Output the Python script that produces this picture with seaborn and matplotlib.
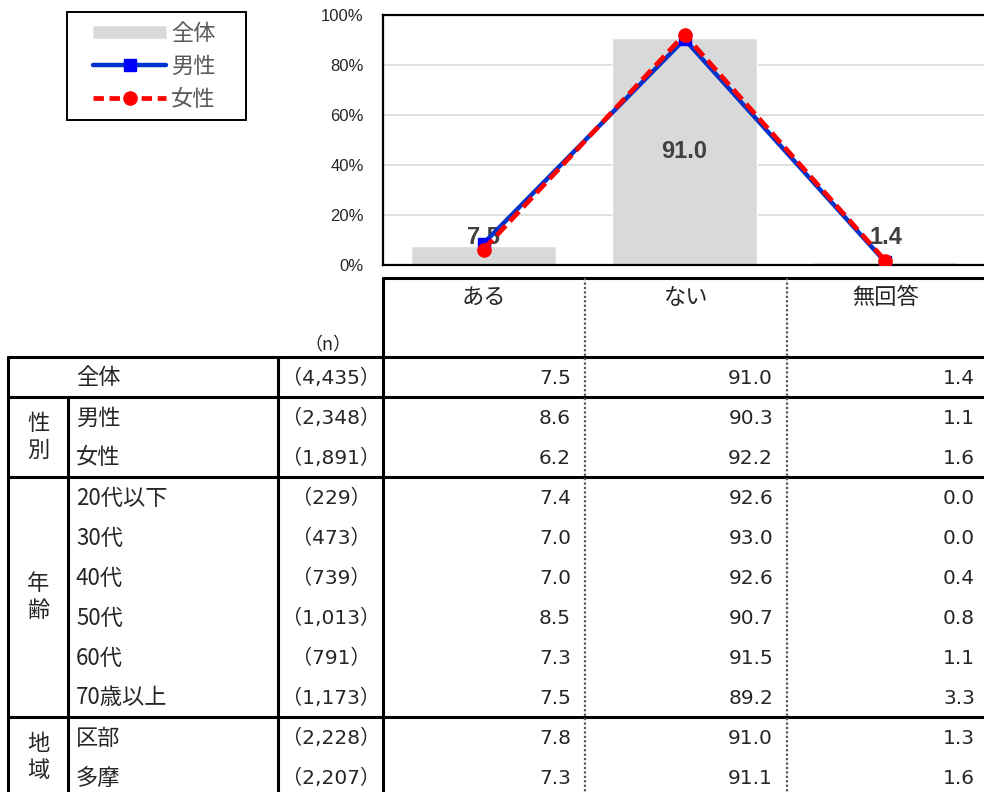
import seaborn as sns
import matplotlib.pyplot as plt
from matplotlib.lines import Line2D
from matplotlib.patches import Rectangle
import numpy as np
import pandas as pd

# Data
categories = ["ある", "ない", "無回答"]
overall = [7.5, 91.0, 1.4]
male = [8.6, 90.3, 1.1]
female = [6.2, 92.2, 1.6]

row_labels = ["全体", "男性", "女性", "20代以下", "30代", "40代", "50代", "60代", "70歳以上", "区部", "多摩"]
n_values = [4435, 2348, 1891, 229, 473, 739, 1013, 791, 1173, 2228, 2207]
aru = [7.5, 8.6, 6.2, 7.4, 7.0, 7.0, 8.5, 7.3, 7.5, 7.8, 7.3]
nai = [91.0, 90.3, 92.2, 92.6, 93.0, 92.6, 90.7, 91.5, 89.2, 91.0, 91.1]
mukaito = [1.4, 1.1, 1.6, 0.0, 0.0, 0.4, 0.8, 1.1, 3.3, 1.3, 1.6]
group_names = ["", "性\n別", "年\n齢", "地\n域"]
group_sizes = [1, 2, 6, 2]

sns.set_style("white")
plt.rcParams['font.family'] = ['Noto Sans CJK JP', 'DejaVu Sans']
num_font = ['DejaVu Sans', 'Noto Sans CJK JP']

W, H = 984, 792
fig = plt.figure(figsize=(W / 100, H / 100), dpi=100)

# Chart axes (pixel box: x 383..986, y 15..265)
ax = fig.add_axes([383 / W, 1 - 265 / H, 603 / W, 250 / H])
df = pd.DataFrame({"cat": categories, "val": overall})
sns.barplot(data=df, x="cat", y="val", color="#D9D9D9", saturation=1, width=0.72, ax=ax, zorder=2)
xpos = np.arange(len(categories))
ax.plot(xpos, male, color="#0033CC", lw=3.2, marker="s", ms=8.5, mfc="#0000FF", mec="#0000FF", zorder=4)
ax.plot(xpos, female, color="#FF0000", lw=3.4, ls=(0, (2.8, 1.3)), marker="o", ms=9.5, zorder=5)
for i, v in enumerate(overall):
    y = v / 2 if v > 20 else 11
    ax.text(i, y, f"{v:.1f}", ha="center", va="center", fontsize=17, fontweight="bold",
            color="#404040", family=["Liberation Sans"], zorder=3)
ax.set_xlim(-0.5, 2.5)
ax.set_ylim(0, 100)
ax.set_yticks(range(0, 101, 20))
ax.set_yticklabels([f"{t}%" for t in range(0, 101, 20)], fontsize=12, family=["Liberation Sans"])
ax.tick_params(axis="y", length=0, pad=14)
ax.set_xticks([])
ax.set_xlabel("")
ax.set_ylabel("")
ax.yaxis.grid(True, color="#D9D9D9", lw=1.2, zorder=0)
ax.set_axisbelow(True)
for s in ax.spines.values():
    s.set_color("black")
    s.set_linewidth(1.6)

# Table / decoration overlay (pixel coordinates)
tx = fig.add_axes([0, 0, 1, 1], zorder=-1)
tx.set_xlim(0, W)
tx.set_ylim(H, 0)
tx.axis("off")

# Legend (frame drawn separately for wider side padding)
handles = [
    Line2D([], [], color="#D9D9D9", lw=9, solid_capstyle="butt"),
    Line2D([], [], color="#0033CC", lw=3.2, marker="s", ms=8.5, mfc="#0000FF", mec="#0000FF"),
    Line2D([], [], color="#FF0000", lw=3.4, ls=(0, (2.2, 1.2)), marker="o", ms=9.5),
]
leg = fig.legend(handles, ["全体", "男性", "女性"], loc="center left",
                 bbox_to_anchor=(93 / W, 1 - 66 / H), borderaxespad=0, frameon=False,
                 fontsize=16, handlelength=3.3, labelspacing=0.45, borderpad=0,
                 handletextpad=0.2, labelcolor="#595959")
tx.add_patch(Rectangle((67, 12), 179, 108, fill=False, edgecolor="black", lw=1.4))

lw = 2.2
row_top = 357
row_h = 40
n_rows = len(row_labels)
bottom = row_top + row_h * n_rows

# header
tx.plot([383, W], [278, 278], color="black", lw=lw)
col_centers = [484, 686, 885]
for c, lab in zip(col_centers, categories):
    tx.text(c, 297, lab, ha="center", va="center", fontsize=16)
tx.text(328, 345, "（n）", ha="center", va="center", fontsize=13)

# horizontal group lines
line_rows = [0] + list(np.cumsum(group_sizes))
for r in line_rows:
    y = row_top + r * row_h
    tx.plot([8, W], [y, y], color="black", lw=lw)

# vertical lines
tx.plot([8, 8], [row_top, bottom], color="black", lw=lw)
tx.plot([68, 68], [row_top + row_h, bottom], color="black", lw=lw)
tx.plot([278, 278], [row_top, bottom], color="black", lw=lw)
tx.plot([383, 383], [278, bottom], color="black", lw=lw)
for x in [585, 787]:
    tx.plot([x, x], [278, bottom], color="#555555", lw=1.6, ls=(0, (1, 1)))

# rows
for i in range(n_rows):
    yc = row_top + row_h * i + 21
    tx.text(76, yc, row_labels[i], ha="left", va="center", fontsize=16)
    tx.text(331, yc, f"（{n_values[i]:,}）", ha="center", va="center", fontsize=14.5, family=num_font)
    for x, vals in zip([571, 773, 975], [aru, nai, mukaito]):
        tx.text(x, yc, f"{vals[i]:.1f}", ha="right", va="center", fontsize=14.5, family=num_font)

# group labels
start = 0
for name, size in zip(group_names, group_sizes):
    if name:
        yc = row_top + row_h * start + row_h * size / 2
        tx.text(38, yc, name, ha="center", va="center", fontsize=16, linespacing=1.25)
    start += size

fig.savefig("out.png", dpi=100)
